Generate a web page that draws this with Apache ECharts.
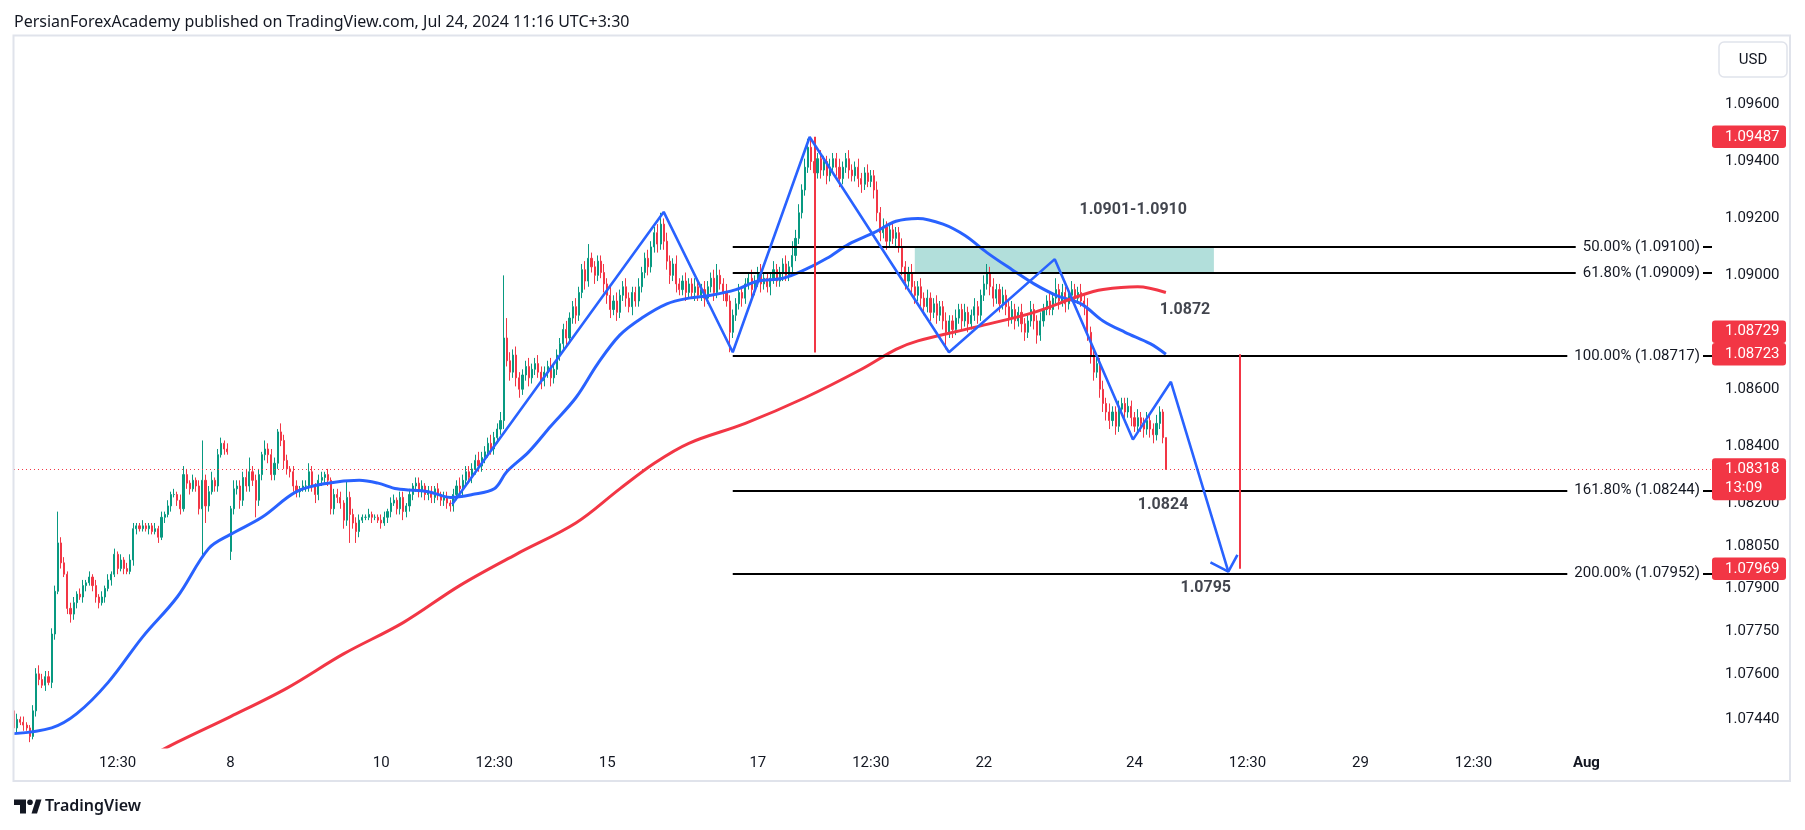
<!DOCTYPE html>
<html><head><meta charset="utf-8">
<script src="https://cdn.jsdelivr.net/npm/echarts@6/dist/echarts.min.js"></script>
<style>html,body{margin:0;padding:0;background:#fff;}#c{width:1805px;height:830px;}</style>
</head><body><div id="c"></div>
<script>
// ---------- DATA (EURUSD 1h) ----------
const firstSlotTime = '2024-07-03 03:30';
const N_SLOTS = 542; // hourly slots shown on the time axis (incl. empty future space)
const tickTimes  = ['07-04 12:30','07-08 00:30','07-10 00:30','07-11 12:30','07-15 00:30','07-17 00:30','07-18 12:30','07-22 00:30','07-24 00:30','07-25 12:30','07-29 00:30','07-30 12:30','08-01 00:30'];
const tickLabels = ['12:30','8','10','12:30','15','17','12:30','22','24','12:30','29','12:30','Aug'];
const priceTicks = [1.096,1.094,1.092,1.090,1.086,1.084,1.082,1.0805,1.079,1.0775,1.076,1.0744];

const opens = [
1.0747,1.0741,1.0744,1.0743,1.0742,1.0741,1.0738,1.0747,1.0760,1.0758,
1.0756,1.0759,1.0757,1.0774,1.0789,1.0806,1.0799,1.0795,1.0783,1.0781,
1.0785,1.0788,1.0787,1.0791,1.0792,1.0794,1.0791,1.0787,1.0785,1.0787,
1.0790,1.0793,1.0795,1.0802,1.0797,1.0800,1.0797,1.0796,1.0800,1.0811,
1.0812,1.0811,1.0812,1.0811,1.0812,1.0810,1.0811,1.0808,1.0815,1.0816,
1.0819,1.0823,1.0823,1.0821,1.0818,1.0830,1.0827,1.0825,1.0828,1.0826,
1.0818,1.0828,1.0819,1.0824,1.0828,1.0826,1.0837,1.0841,1.0839,1.0803,
1.0818,1.0825,1.0826,1.0821,1.0829,1.0826,1.0831,1.0828,1.0821,1.0830,
1.0837,1.0839,1.0837,1.0830,1.0834,1.0845,1.0842,1.0835,1.0832,1.0831,
1.0826,1.0824,1.0825,1.0826,1.0826,1.0831,1.0826,1.0823,1.0828,1.0829,
1.0830,1.0828,1.0818,1.0823,1.0822,1.0820,1.0814,1.0822,1.0816,1.0813,
1.0810,1.0814,1.0815,1.0815,1.0816,1.0815,1.0815,1.0814,1.0813,1.0815,
1.0817,1.0820,1.0821,1.0818,1.0822,1.0817,1.0819,1.0823,1.0826,1.0827,
1.0824,1.0826,1.0823,1.0824,1.0822,1.0825,1.0823,1.0821,1.0822,1.0820,
1.0819,1.0823,1.0826,1.0825,1.0828,1.0831,1.0829,1.0832,1.0835,1.0833,
1.0836,1.0838,1.0841,1.0839,1.0843,1.0846,1.0849,1.0878,1.0870,1.0866,
1.0872,1.0864,1.0860,1.0865,1.0868,1.0864,1.0867,1.0869,1.0866,1.0863,
1.0866,1.0868,1.0864,1.0867,1.0872,1.0876,1.0881,1.0878,1.0885,1.0889,
1.0886,1.0894,1.0902,1.0898,1.0906,1.0903,1.0900,1.0905,1.0901,1.0897,
1.0893,1.0888,1.0891,1.0887,1.0893,1.0896,1.0892,1.0889,1.0894,1.0891,
1.0896,1.0901,1.0906,1.0903,1.0910,1.0915,1.0911,1.0918,1.0912,1.0905,
1.0900,1.0904,1.0897,1.0895,1.0898,1.0894,1.0897,1.0894,1.0896,1.0893,
1.0895,1.0892,1.0896,1.0899,1.0894,1.0900,1.0897,1.0894,1.0891,1.0880,
1.0886,1.0890,1.0894,1.0892,1.0897,1.0899,1.0895,1.0898,1.0901,1.0897,
1.0899,1.0896,1.0899,1.0902,1.0898,1.0901,1.0904,1.0900,1.0903,1.0907,
1.0913,1.0922,1.0930,1.0938,1.0945,1.0940,1.0936,1.0941,1.0937,1.0940,
1.0935,1.0938,1.0941,1.0938,1.0934,1.0938,1.0941,1.0937,1.0935,1.0938,
1.0934,1.0932,1.0936,1.0933,1.0935,1.0930,1.0922,1.0915,1.0917,1.0912,
1.0916,1.0913,1.0915,1.0910,1.0903,1.0898,1.0901,1.0896,1.0893,1.0896,
1.0892,1.0889,1.0892,1.0887,1.0890,1.0886,1.0889,1.0884,1.0880,1.0884,
1.0881,1.0885,1.0888,1.0884,1.0887,1.0883,1.0886,1.0889,1.0886,1.0893,
1.0897,1.0901,1.0896,1.0892,1.0895,1.0890,1.0893,1.0889,1.0885,1.0888,
1.0884,1.0887,1.0883,1.0880,1.0884,1.0888,1.0884,1.0879,1.0884,1.0888,
1.0891,1.0888,1.0892,1.0895,1.0891,1.0894,1.0890,1.0893,1.0895,1.0892,
1.0894,1.0891,1.0889,1.0880,1.0872,1.0866,1.0869,1.0860,1.0855,1.0852,
1.0849,1.0852,1.0847,1.0853,1.0855,1.0852,1.0854,1.0850,1.0847,1.0850,
1.0848,1.0846,1.0849,1.0846,1.0844,1.0848,1.0852,1.0843];

const closes = [
1.0741,1.0744,1.0743,1.0742,1.0741,1.0738,1.0747,1.0760,1.0758,1.0756,
1.0759,1.0757,1.0774,1.0789,1.0806,1.0799,1.0795,1.0783,1.0781,1.0785,
1.0788,1.0787,1.0791,1.0792,1.0794,1.0791,1.0787,1.0785,1.0787,1.0790,
1.0793,1.0795,1.0802,1.0797,1.0800,1.0797,1.0796,1.0800,1.0811,1.0812,
1.0811,1.0812,1.0811,1.0812,1.0810,1.0811,1.0808,1.0815,1.0816,1.0819,
1.0823,1.0823,1.0821,1.0818,1.0830,1.0827,1.0825,1.0828,1.0826,1.0818,
1.0828,1.0819,1.0824,1.0828,1.0826,1.0837,1.0841,1.0839,1.0838,1.0818,
1.0825,1.0826,1.0821,1.0829,1.0826,1.0831,1.0828,1.0821,1.0830,1.0837,
1.0839,1.0837,1.0830,1.0834,1.0845,1.0842,1.0835,1.0832,1.0831,1.0826,
1.0824,1.0825,1.0826,1.0826,1.0831,1.0826,1.0823,1.0828,1.0829,1.0830,
1.0828,1.0818,1.0823,1.0822,1.0820,1.0814,1.0822,1.0816,1.0813,1.0810,
1.0814,1.0815,1.0815,1.0816,1.0815,1.0815,1.0814,1.0813,1.0815,1.0817,
1.0820,1.0821,1.0818,1.0822,1.0817,1.0819,1.0823,1.0826,1.0827,1.0824,
1.0826,1.0823,1.0824,1.0822,1.0825,1.0823,1.0821,1.0822,1.0820,1.0819,
1.0823,1.0826,1.0825,1.0828,1.0831,1.0829,1.0832,1.0835,1.0833,1.0836,
1.0838,1.0841,1.0839,1.0843,1.0846,1.0849,1.0878,1.0870,1.0866,1.0872,
1.0864,1.0860,1.0865,1.0868,1.0864,1.0867,1.0869,1.0866,1.0863,1.0866,
1.0868,1.0864,1.0867,1.0872,1.0876,1.0881,1.0878,1.0885,1.0889,1.0886,
1.0894,1.0902,1.0898,1.0906,1.0903,1.0900,1.0905,1.0901,1.0897,1.0893,
1.0888,1.0891,1.0887,1.0893,1.0896,1.0892,1.0889,1.0894,1.0891,1.0896,
1.0901,1.0906,1.0903,1.0910,1.0915,1.0911,1.0918,1.0912,1.0905,1.0900,
1.0904,1.0897,1.0895,1.0898,1.0894,1.0897,1.0894,1.0896,1.0893,1.0895,
1.0892,1.0896,1.0899,1.0894,1.0900,1.0897,1.0894,1.0891,1.0880,1.0886,
1.0890,1.0894,1.0892,1.0897,1.0899,1.0895,1.0898,1.0901,1.0897,1.0899,
1.0896,1.0899,1.0902,1.0898,1.0901,1.0904,1.0900,1.0903,1.0907,1.0913,
1.0922,1.0930,1.0938,1.0945,1.0940,1.0936,1.0941,1.0937,1.0940,1.0935,
1.0938,1.0941,1.0938,1.0934,1.0938,1.0941,1.0937,1.0935,1.0938,1.0934,
1.0932,1.0936,1.0933,1.0935,1.0930,1.0922,1.0915,1.0917,1.0912,1.0916,
1.0913,1.0915,1.0910,1.0903,1.0898,1.0901,1.0896,1.0893,1.0896,1.0892,
1.0889,1.0892,1.0887,1.0890,1.0886,1.0889,1.0884,1.0880,1.0884,1.0881,
1.0885,1.0888,1.0884,1.0887,1.0883,1.0886,1.0889,1.0886,1.0893,1.0897,
1.0901,1.0896,1.0892,1.0895,1.0890,1.0893,1.0889,1.0885,1.0888,1.0884,
1.0887,1.0883,1.0880,1.0884,1.0888,1.0884,1.0879,1.0884,1.0888,1.0891,
1.0888,1.0892,1.0895,1.0891,1.0894,1.0890,1.0893,1.0895,1.0892,1.0894,
1.0891,1.0889,1.0880,1.0872,1.0866,1.0869,1.0860,1.0855,1.0852,1.0849,
1.0852,1.0847,1.0853,1.0855,1.0852,1.0854,1.0850,1.0847,1.0850,1.0848,
1.0846,1.0849,1.0846,1.0844,1.0848,1.0852,1.0843,1.08318];

// wick lengths above / below the body, in pips
const upWick = [
7,2,1,2,1,1,2,2,3,2, 2,2,2,2,11,2,2,1,2,2, 1,2,2,1,2,1,2,1,2,1, 2,1,2,1,2,1,2,2,2,1,
1,2,1,1,1,2,1,2,1,2, 1,2,1,2,3,2,1,2,1,2, 14,2,2,3,1,2,2,1,2,1, 3,2,2,2,3,5,2,2,2,1,
3,2,2,2,1,3,2,2,1,2, 2,1,2,2,3,2,1,2,2,1, 2,1,2,2,2,1,6,2,2,2, 2,1,1,2,1,1,1,2,2,1,
2,2,1,2,2,1,2,1,2,2, 2,1,2,2,1,2,1,2,2,1, 2,2,3,2,2,2,2,2,3,2, 2,2,3,2,2,3,22,7,3,2,
3,2,2,2,3,2,2,3,2,2, 2,3,2,2,2,2,3,2,2,3, 2,2,3,5,2,2,2,2,3,2, 3,2,3,2,2,3,2,2,2,3,
2,2,3,2,2,3,4,2,3,2, 2,3,2,2,3,2,2,3,2,2, 3,2,2,3,4,2,2,3,2,2, 2,3,2,2,2,3,2,2,3,2,
2,2,3,2,2,2,3,2,5,3, 3,2,3,3,3,2,2,3,2,2, 3,2,2,3,2,2,3,2,2,3, 2,2,3,2,2,3,2,3,2,2,
3,2,2,3,2,2,3,2,2,3, 2,3,2,2,3,2,2,3,2,2, 3,2,2,3,2,2,3,2,2,3, 3,2,3,2,2,3,2,2,3,2,
2,3,2,2,3,2,2,3,2,2, 3,2,4,2,3,2,2,3,2,2, 3,2,3,2,3,2,2,3,2,3, 2,2,3,2,2,3,2,2,3,2,
2,3,2,2,3,2,1,0];
const downWick = [
1,2,1,2,1,2,1,2,2,1, 2,1,2,2,1,2,1,2,3,2, 2,1,2,2,1,2,2,2,1,2, 1,2,1,2,1,2,1,1,2,2,
1,1,1,2,1,1,2,1,2,1, 2,1,2,2,1,2,2,1,2,2, 17,6,2,1,2,2,1,2,1,3, 2,2,3,2,2,2,2,6,2,2,
2,3,2,2,2,2,3,2,2,2, 2,2,1,2,2,2,3,2,2,2, 2,2,2,2,2,3,2,10,2,4, 2,1,1,1,2,1,1,2,1,2,
2,1,2,2,3,2,2,2,2,2, 2,2,2,2,2,2,2,2,2,2, 2,2,2,3,2,2,2,2,2,2, 2,2,2,2,2,2,3,2,3,2,
3,3,2,2,3,2,2,2,3,2, 2,3,2,2,2,2,3,2,2,3, 2,2,3,2,2,3,2,2,3,3, 3,2,3,2,2,3,2,3,2,2,
2,2,3,2,2,3,2,3,3,3, 2,3,2,2,3,2,2,3,2,2, 3,2,2,3,2,2,3,2,7,2, 2,2,3,2,2,3,2,2,3,2,
2,3,2,2,2,3,2,2,2,2, 2,2,2,2,3,3,2,3,2,3, 2,2,3,3,2,2,3,2,2,3, 3,2,2,2,3,3,3,2,3,2,
2,3,2,3,3,2,3,3,2,3, 3,2,3,2,3,2,3,6,2,3, 2,2,3,2,3,2,2,3,2,2, 2,3,3,2,3,2,3,3,2,3,
2,3,3,2,2,3,3,2,2,2, 2,2,2,3,2,3,2,2,3,2, 2,3,3,3,3,2,3,3,3,3, 2,3,2,2,3,2,3,2,2,3,
3,2,3,3,2,2,2,0];

// moving averages, read at sample candles: [candle index, price]
const emaBlue = [[0,1.0739],[12,1.0741],[20,1.0746],[30,1.0757],[41,1.0773],[52,1.0787],[62,1.0804],[69,1.0809],[79,1.0815],[90,1.0824],[100,1.0827],[110,1.0828],[116,1.0827],[122,1.0825],[132,1.0824],[139,1.0822],[146,1.0823],[153,1.0825],[157,1.0831],[164,1.0838],[171,1.0847],[179,1.0857],[186,1.0869],[193,1.0879],[200,1.0885],[208,1.0890],[215,1.0892],[222,1.0893],[230,1.0895],[237,1.0898],[245,1.0899],[252,1.0902],[259,1.0906],[266,1.0911],[274,1.0915],[281,1.0919],[288,1.0920],[296,1.0918],[303,1.0914],[310,1.0908],[318,1.0902],[325,1.0897],[332,1.0893],[340,1.0890],[347,1.0884],[354,1.0880],[362,1.0876],[367,1.08723]];
const emaRed = [[40,1.0729],[52,1.0736],[69,1.0745],[87,1.0755],[105,1.0767],[124,1.0778],[142,1.0791],[160,1.0802],[179,1.0813],[193,1.0825],[204,1.0834],[215,1.0841],[233,1.0848],[252,1.0857],[270,1.0867],[281,1.0874],[288,1.0877],[307,1.0882],[325,1.0887],[340,1.0893],[347,1.0895],[358,1.0896],[367,1.0894]];

// drawings
const zigzag = [[139.6,1.08196],[207.0,1.09223],[229.0,1.0873],[253.5,1.09486],[297.9,1.0873],[331.6,1.09057],[356.5,1.08423],[368.6,1.08626],[386.9,1.07959]];
const arrowHead = [[381.2,1.07992],[386.9,1.07959],[389.8,1.08018]];
const fibStart = 229.0;
const fibLevels = [1.09100,1.09009,1.08717,1.08244,1.07952];
const fibNames  = ['50.00%','61.80%','100.00%','161.80%','200.00%'];
const zoneBox = [[287.0,1.09100],[382.3,1.09009]];
const rangeLines = [[255.1,1.09487,1.08729],[390.6,1.08723,1.07969]];
const notes = [[356.6,1.09231,'1.0901-1.0910'],[373.1,1.08879,'1.0872'],[366.1,1.08192,'1.0824'],[379.7,1.07901,'1.0795']];
const lastPrice = 1.08318;
const priceBoxes = [1.09487,1.08729,1.08723,1.08318,1.07969];
const Y_MIN = 1.07343, Y_MAX = 1.09841;

// ---------- BUILD ----------
function pad(n){return (n<10?'0':'')+n;}
const slots = [];
(function(){
  const p = firstSlotTime.split(/[- :]/).map(Number);
  let t = Date.UTC(p[0], p[1]-1, p[2], p[3], p[4]);
  while (slots.length < N_SLOTS) {
    const d = new Date(t); const wd = d.getUTCDay();
    if (wd !== 0 && wd !== 6) slots.push(pad(d.getUTCMonth()+1)+'-'+pad(d.getUTCDate())+' '+pad(d.getUTCHours())+':'+pad(d.getUTCMinutes()));
    t += 3600000;
  }
})();
const tickMap = {}; tickTimes.forEach((t,k)=>tickMap[t]=tickLabels[k]);

const candles = opens.map((o,i)=>{
  const c = closes[i];
  const lo = Math.min(o,c) - downWick[i]*1e-4, hi = Math.max(o,c) + upWick[i]*1e-4;
  return [o, c, +lo.toFixed(5), +hi.toFixed(5)];
});

const FONT = 'Roboto, "Noto Sans", sans-serif';
const chart = echarts.init(document.getElementById('c'), null, {renderer:'canvas'});
const option = {
  animation:false,
  backgroundColor:'#ffffff',
  textStyle:{fontFamily:FONT},
  grid:{left:14, right:93, top:36, bottom:83},
  xAxis:[
    {type:'category', data:slots, boundaryGap:false,
     axisLine:{show:false}, axisTick:{show:false}, splitLine:{show:false},
     axisLabel:{interval:(idx,val)=>tickMap[val]!==undefined,
       formatter:(val)=>{const l=tickMap[val]; return l==='Aug'?'{b|Aug}':l;},
       color:'#131722', fontSize:15, margin:9, fontFamily:FONT,
       rich:{b:{fontWeight:'bold', fontSize:15, color:'#131722', fontFamily:FONT}}}},
    {type:'value', min:0, max:N_SLOTS-1, show:false}
  ],
  yAxis:{type:'value', position:'right', min:Y_MIN, max:Y_MAX, scale:true,
    splitLine:{show:false}, axisLine:{show:false}, axisTick:{show:false},
    axisLabel:{customValues:priceTicks, formatter:(v)=>v.toFixed(5), color:'#131722', fontSize:15, margin:13, fontFamily:FONT}},
  series:[
    {type:'line', xAxisIndex:1, data:[[fibStart, fibLevels[0]]], symbol:'none', z:1, silent:true,
     markArea:{silent:true, itemStyle:{color:'rgba(0,150,136,0.3)'}, data:[[{coord:zoneBox[0]},{coord:zoneBox[1]}]]},
     markLine:{silent:true, symbol:['none','none'], animation:false, label:{show:false},
       data: fibLevels.map(l=>[{coord:[fibStart,l], lineStyle:{color:'#000000', width:2, type:'solid'}},{coord:[N_SLOTS-1,l]}])
         .concat([[{yAxis:lastPrice, x:14, lineStyle:{color:'#f23645', width:1, type:[1,3]}},{yAxis:lastPrice, x:1712}]])}},
    {type:'candlestick', name:'EURUSD', data:candles, barWidth:1.6, z:3,
     itemStyle:{color:'#089981', color0:'#f23645', borderColor:'#089981', borderColor0:'#f23645', borderWidth:1}},
    {type:'line', name:'EMA50', xAxisIndex:1, data:emaBlue, smooth:0.35, symbol:'none', z:4, lineStyle:{color:'#2962ff', width:3}},
    {type:'line', name:'EMA200', xAxisIndex:1, data:emaRed, smooth:0.35, symbol:'none', z:4, lineStyle:{color:'#f23645', width:3}},
    {type:'line', name:'pattern', xAxisIndex:1, data:zigzag, symbol:'none', z:5, lineStyle:{color:'#2962ff', width:2.6}},
    {type:'line', name:'arrow', xAxisIndex:1, data:arrowHead, symbol:'none', z:5, lineStyle:{color:'#2962ff', width:2.6}},
    {type:'line', name:'ranges', xAxisIndex:1, data:[[rangeLines[0][0],rangeLines[0][1]]], symbol:'none', z:5,
     markLine:{silent:true, symbol:['none','none'], label:{show:false}, lineStyle:{color:'#f23645', width:2, type:'solid'},
       data: rangeLines.map(r=>[{coord:[r[0],r[1]]},{coord:[r[0],r[2]]}])}},
    {type:'scatter', name:'notes', xAxisIndex:1, symbolSize:0, z:8, silent:true,
     data: notes.map(n=>({value:[n[0],n[1]], label:{formatter:n[2]}})),
     label:{show:true, position:'inside', color:'#131722', fontSize:16, fontWeight:'bold', fontFamily:FONT}}
  ]
};
chart.setOption(option);

// ---------- overlay graphics (fib labels, axis price tags, frame, header) ----------
const els = [];
els.push({type:'rect', shape:{x:13.5, y:35.5, width:1776.5, height:745.5}, style:{fill:'none', stroke:'#e0e3eb', lineWidth:2}, z:50, silent:true});
els.push({type:'text', x:14, y:22, style:{text:'PersianForexAcademy published on TradingView.com, Jul 24, 2024 11:16 UTC+3:30', fill:'#131722', font:'16px "Noto Sans", sans-serif', verticalAlign:'middle', textVerticalAlign:'middle'}, z:50});
els.push({type:'rect', shape:{x:1719, y:42, width:68, height:35, r:5}, style:{fill:'#ffffff', stroke:'#e0e3eb', lineWidth:1.5}, z:50});
els.push({type:'text', x:1753, y:60, style:{text:'USD', fill:'#131722', font:'15px '+FONT, align:'center', verticalAlign:'middle', textAlign:'center', textVerticalAlign:'middle'}, z:51});
// TradingView logo
els.push({type:'polygon', shape:{points:[[14,799.5],[26,799.5],[26,813.5],[20,813.5],[20,805],[14,805]]}, style:{fill:'#131722'}, z:50});
els.push({type:'circle', shape:{cx:30, cy:802.3, r:2.8}, style:{fill:'#131722'}, z:50});
els.push({type:'polygon', shape:{points:[[31.5,813.5],[36,799.5],[41.5,799.5],[37,813.5]]}, style:{fill:'#131722'}, z:50});
els.push({type:'text', x:45, y:806.5, style:{text:'TradingView', fill:'#131722', font:'600 16px "Noto Sans", sans-serif', verticalAlign:'middle', textVerticalAlign:'middle'}, z:50});
// fib level labels at the right edge of the plot, on a white background that hides the line behind them
const plotRight = chart.convertToPixel({xAxisIndex:1}, N_SLOTS-1);
fibLevels.forEach((l,k)=>{
  const y = chart.convertToPixel({yAxisIndex:0}, l);
  els.push({type:'text', x:plotRight-9, y:y, z:40, silent:true,
    style:{text:fibNames[k]+' ('+l.toFixed(5)+')', fill:'#131722', font:'15px '+FONT,
      align:'right', verticalAlign:'middle', textAlign:'right', textVerticalAlign:'middle',
      backgroundColor:'#ffffff', padding:[3,3,3,7]}});
});
// red price tags, stacked so they do not overlap
const tags = priceBoxes.map(v=>({v:v, y:chart.convertToPixel({yAxisIndex:0}, v)})).sort((a,b)=>a.y-b.y);
const H = 22.5;
for (let k=tags.length-2;k>=0;k--){ if (tags[k].y > tags[k+1].y - H) tags[k].y = tags[k+1].y - H; }
tags.forEach(t=>{
  const isLast = t.v===lastPrice;
  els.push({type:'rect', shape:{x:1712, y:t.y-H/2, width:74, height:isLast?42:H, r:3}, style:{fill:'#f23645'}, z:60});
  els.push({type:'text', x:1725, y:t.y, style:{text:t.v.toFixed(5), fill:'#ffffff', font:'15px '+FONT, verticalAlign:'middle', textVerticalAlign:'middle'}, z:61});
  if (isLast) els.push({type:'text', x:1725, y:t.y+19, style:{text:'13:09', fill:'#ffffff', font:'15px '+FONT, verticalAlign:'middle', textVerticalAlign:'middle'}, z:61});
});
chart.setOption({graphic:{elements:els}});
</script></body></html>
